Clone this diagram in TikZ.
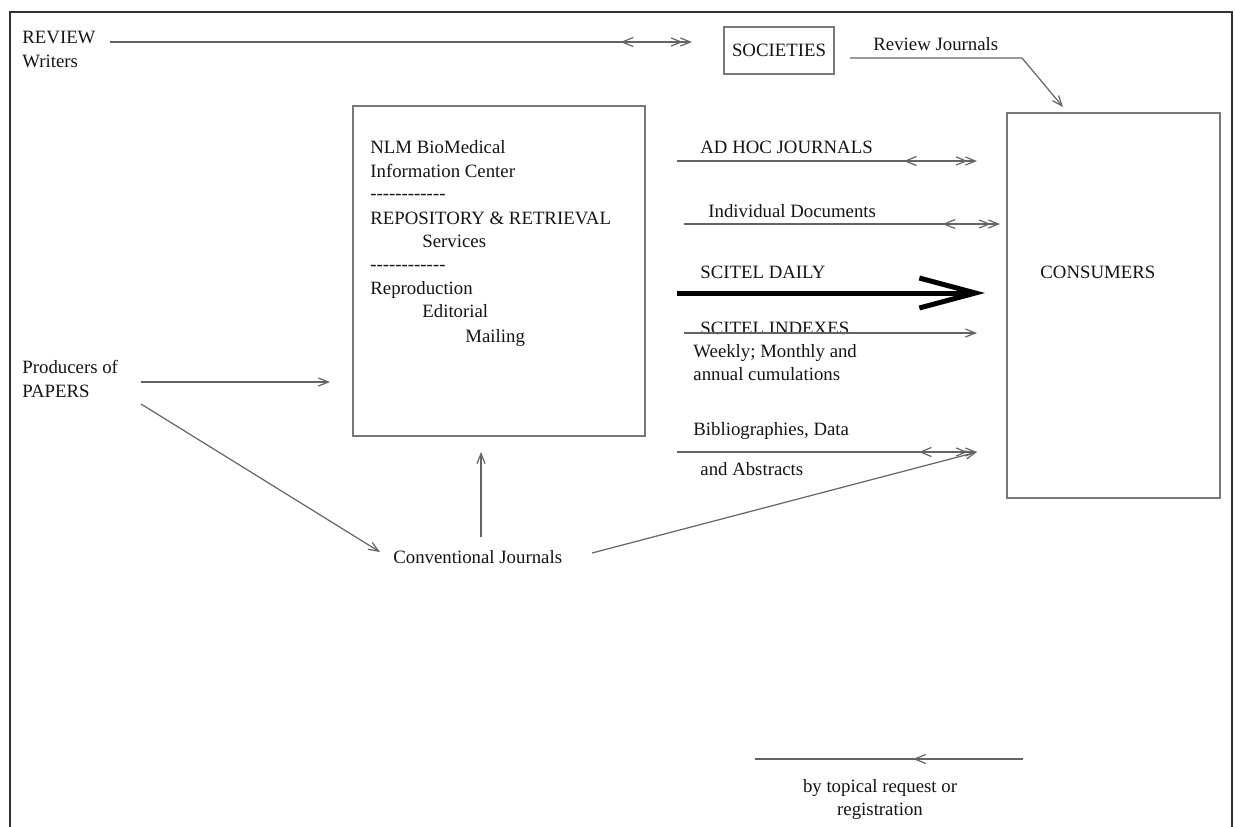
\documentclass[tikz,border=0pt]{standalone}
\usepackage{fontspec}
\setmainfont{Liberation Serif}
\usetikzlibrary{arrows.meta,decorations.markings}
\definecolor{linegray}{RGB}{100,100,100}
\definecolor{boxgray}{RGB}{120,120,120}
\definecolor{framegray}{RGB}{50,50,50}
\definecolor{inkc}{RGB}{20,20,20}
\tikzset{
  txt/.style={anchor=base west, inner sep=0pt, text=inkc, font=\fontsize{9.4}{11.8}\selectfont},
  ctxt/.style={txt, anchor=base},
  box/.style={draw=boxgray, line width=0.7pt, inner sep=0pt, text=inkc, font=\fontsize{9.4}{11.8}\selectfont},
  conn/.style={draw=linegray, line width=0.6pt, -{Straight Barb[length=5pt,width=4pt]}},
  dconn/.style={draw=linegray, line width=0.6pt,
    -{Straight Barb[length=5pt,width=4pt,sep=-1.5pt]Straight Barb[length=5pt,width=4pt]},
    postaction={decorate, decoration={markings, mark=at position #1 with {\arrow{<}}}}},
  midconn/.style={draw=linegray, line width=0.6pt,
    postaction={decorate, decoration={markings, mark=at position #1 with {\arrow{>}}}}},
  bigarrow/.style={draw=black, line width=2.5pt, -{Straight Barb[length=28pt,width=15pt]}},
}
\newcommand{\dashrow}{-{}-{}-{}-{}-{}-{}-{}-{}-{}-{}-{}-}
\begin{document}
\begin{tikzpicture}[x=0.5pt, y=-0.5pt, >={Straight Barb[length=5.5pt,width=4.5pt]}]
\useasboundingbox (0,0) rectangle (1235,826);
% outer frame (open at the bottom)
\draw[framegray, line width=1.3pt] (10,830) -- (10,12) -- (1232,12) -- (1232,830);

% nodes
\node[txt] (review) at (22,43) {REVIEW};
\node[txt] (writers) at (22,67) {Writers};
\node[box, minimum width=55pt, minimum height=23.5pt] (soc) at (779,50.5) {SOCIETIES};
\node[txt] (revj) at (873,50) {Review Journals};

\node[box, minimum width=146pt, minimum height=165pt] (nlm) at (499,271) {};
\node[txt] (t1) at (370,153) {NLM BioMedical};
\node[txt] (t2) at (370,177) {Information Center};
\node[txt] (t3) at (370,199) {\dashrow};
\node[txt] (t4) at (370,224) {REPOSITORY \& RETRIEVAL};
\node[txt] (t5) at (422,247) {Services};
\node[txt] (t6) at (370,270) {\dashrow};
\node[txt] (t7) at (370,294) {Reproduction};
\node[txt] (t8) at (422,317) {Editorial};
\node[txt] (t9) at (465,342) {Mailing};

\node[box, minimum width=106.5pt, minimum height=192.5pt] (cons) at (1113.5,305.5) {};
\node[txt] (ctext) at (1040,278) {CONSUMERS};

\node[txt] (adhoc) at (700,153) {AD HOC JOURNALS};
\node[txt] (indiv) at (708,217) {Individual Documents};
\node[txt] (daily) at (700,278) {SCITEL DAILY};
\node[txt] (indexes) at (700,334) {SCITEL INDEXES};
\node[txt] (weekly) at (693,357) {Weekly; Monthly and};
\node[txt] (annual) at (693,380) {annual cumulations};
\node[txt] (bib) at (693,435) {Bibliographies, Data};
\node[txt] (abs) at (700,475) {and Abstracts};

\node[txt] (prod) at (22,373) {Producers of};
\node[txt] (papers) at (22,397) {PAPERS};
\node[txt] (conv) at (393,563) {Conventional Journals};

\node[ctxt] (topical) at (880,792) {by topical request or};
\node[ctxt] (regis) at (880,815) {registration};

% connector end points
\coordinate (rvA) at (110,42);   \coordinate (rvB) at (692,42);
\coordinate (rjA) at (850,58);   \coordinate (rjM) at (1022,58); \coordinate (rjB) at (1063,107);
\coordinate (ahA) at (677,161);  \coordinate (ahB) at (977,161);
\coordinate (idA) at (684,224);  \coordinate (idB) at (1000,224);
\coordinate (sdA) at (677,293);  \coordinate (sdB) at (985,293);
\coordinate (siA) at (684,333);  \coordinate (siB) at (977,333);
\coordinate (biA) at (677,452);  \coordinate (biB) at (977,452);
\coordinate (prA) at (141,382);  \coordinate (prB) at (330,382);
\coordinate (pcA) at (141,404);  \coordinate (pcB) at (380,552);
\coordinate (cuA) at (481,537);  \coordinate (cuB) at (481,452);
\coordinate (ccA) at (592,553);
\coordinate (btA) at (1023,759); \coordinate (btB) at (755,759);

% connectors
\draw[dconn=0.90] (rvA) -- (rvB);
\draw[conn] (rjA) -- (rjM) -- (rjB);
\draw[dconn=0.80] (ahA) -- (ahB);
\draw[dconn=0.86] (idA) -- (idB);
\draw[bigarrow] (sdA) -- (sdB);
\draw[conn] (siA) -- (siB);
\draw[dconn=0.85] (biA) -- (biB);
\draw[conn] (prA) -- (prB);
\draw[conn] (pcA) -- (pcB);
\draw[conn] (cuA) -- (cuB);
\draw[conn] (ccA) -- (biB);
\draw[midconn=0.41] (btA) -- (btB);
\end{tikzpicture}
\end{document}
